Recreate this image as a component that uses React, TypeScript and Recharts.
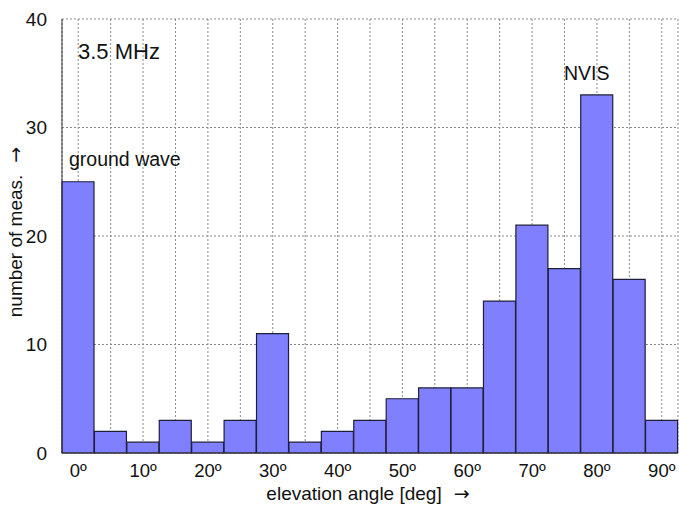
import React from 'react';
import { BarChart, Bar, XAxis, YAxis, CartesianGrid } from 'recharts';

// elevation bins, 5 deg wide, centred on the label angle
const angles = [0, 5, 10, 15, 20, 25, 30, 35, 40, 45, 50, 55, 60, 65, 70, 75, 80, 85, 90];
const counts = [25, 2, 1, 3, 1, 3, 11, 1, 2, 3, 5, 6, 6, 14, 21, 17, 33, 16, 3];
const yTicks = [0, 10, 20, 30, 40];

const data = angles.map((a, i) => ({ angle: a, count: counts[i] }));

const font = '"Liberation Sans", Arial, sans-serif';
const arrowFont = '"DejaVu Sans", sans-serif';
const axisColor = '#333';

const formatAngle = (v: number) => (v % 10 === 0 ? `${v}º` : '');

const App: React.FC = () => {
  return (
    <div style={{ position: 'absolute', left: 0, top: 0, width: 679, height: 506, background: '#fff', fontFamily: font }}>
      <BarChart
        width={679}
        height={506}
        data={data}
        barCategoryGap={0}
        margin={{ top: 19, right: 1, bottom: 23, left: 0 }}
      >
        <CartesianGrid stroke="#8a8a8a" strokeDasharray="2 2" />
        <XAxis
          dataKey="angle"
          interval={0}
          tickFormatter={formatAngle}
          tickLine={false}
          tickMargin={5}
          height={30}
          stroke={axisColor}
          tick={{ fontSize: 18.5, fill: '#111', fontFamily: font }}
        />
        <XAxis xAxisId="top" dataKey="angle" orientation="top" height={0} tick={false} tickLine={false} stroke={axisColor} />
        <YAxis
          domain={[0, 40]}
          ticks={yTicks}
          width={62}
          tickLine={false}
          tickMargin={9}
          stroke={axisColor}
          tick={{ fontSize: 19, fill: '#111', fontFamily: font }}
        />
        <YAxis yAxisId="right" orientation="right" domain={[0, 40]} width={0} tick={false} tickLine={false} stroke={axisColor} />
        <Bar dataKey="count" fill="#8080ff" stroke="#1e1e3a" strokeWidth={1.2} isAnimationActive={false} />
      </BarChart>
      <svg width={679} height={506} style={{ position: 'absolute', left: 0, top: 0, pointerEvents: 'none' }}>
        <g fontFamily={font} fill="#111">
          <text x={78} y={59} fontSize={22}>3.5 MHz</text>
          <text x={69} y={166} fontSize={19.5}>ground wave</text>
          <text x={564} y={80} fontSize={19.5}>NVIS</text>
          <text x={368} y={500} fontSize={19} textAnchor="middle">
            elevation angle [deg]<tspan dx={12} fontFamily={arrowFont}>→</tspan>
          </text>
          <text x={22} y={232} fontSize={19} textAnchor="middle" transform="rotate(-90 22 232)">
            number of meas.<tspan dx={12} fontFamily={arrowFont}>→</tspan>
          </text>
        </g>
      </svg>
    </div>
  );
};

export default App;
